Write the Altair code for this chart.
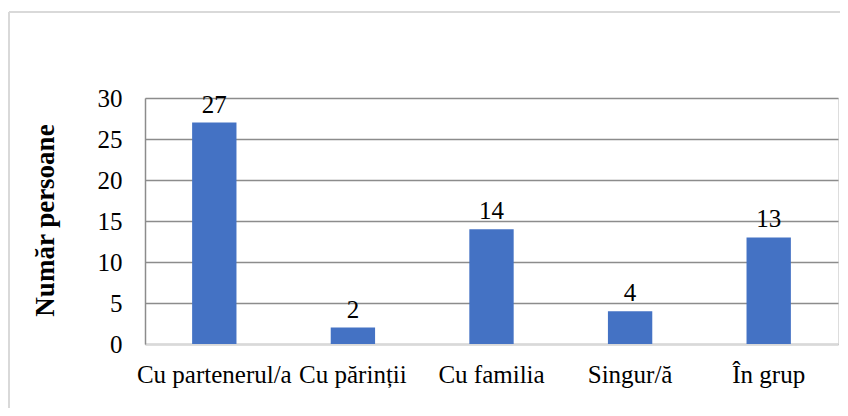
import altair as alt
import pandas as pd

categories = ["Cu partenerul/a", "Cu părinții", "Cu familia", "Singur/ă", "În grup"]
values = [27, 2, 14, 4, 13]

df = pd.DataFrame({"cat": categories, "val": values})

FONT = "Liberation Serif"

x = alt.X("cat:N", sort=categories, title=None,
          scale=alt.Scale(paddingInner=0.68, paddingOuter=0.34),
          axis=alt.Axis(labelAngle=0, labelFont=FONT, labelFontSize=25, labelColor="#000000",
                        labelPadding=18, ticks=False, domainColor="#d9d9d9", domainWidth=2,
                        grid=False, labelOverlap=False))
y = alt.Y("val:Q", title="Număr persoane",
          scale=alt.Scale(domain=[0, 30], nice=False),
          axis=alt.Axis(values=[0, 5, 10, 15, 20, 25, 30], labelFont=FONT, labelFontSize=25,
                        labelColor="#000000", labelPadding=23, ticks=False,
                        domainColor="#8c8c8c", domainWidth=1.5,
                        gridColor="#8c8c8c", gridWidth=1.5,
                        titleFont=FONT, titleFontSize=27, titleFontWeight="bold",
                        titleColor="#000000", titleX=-100, titleY=122, titleAngle=-90,
                        titleAlign="center", titleBaseline="middle"))

top_line = alt.Chart(df).mark_rule(color="#d9d9d9", strokeWidth=2, clip=False).encode(
    x=alt.value(-136), x2=alt.value(720), y=alt.value(-86)
)
left_line = alt.Chart(df).mark_rule(color="#d9d9d9", strokeWidth=2, clip=False).encode(
    x=alt.value(-136), y=alt.value(-86), y2=alt.value(330)
)

bars = alt.Chart(df).mark_bar(color="#4472C4").encode(x=x, y=y)
labels = alt.Chart(df).mark_text(font=FONT, fontSize=25, color="#000000", baseline="alphabetic", dy=-10).encode(
    x=alt.X("cat:N", sort=categories), y="val:Q", text="val:Q")

chart = alt.layer(top_line, left_line, bars, labels).properties(
    width=693, height=246,
    autosize=alt.AutoSizeParams(type="none"),
    padding={"left": 137, "top": 90, "right": 2, "bottom": 64},
    background="white",
).configure_view(stroke=None).configure(font=FONT)

chart.save("out.html", embed_options={"renderer": "svg", "actions": False})
